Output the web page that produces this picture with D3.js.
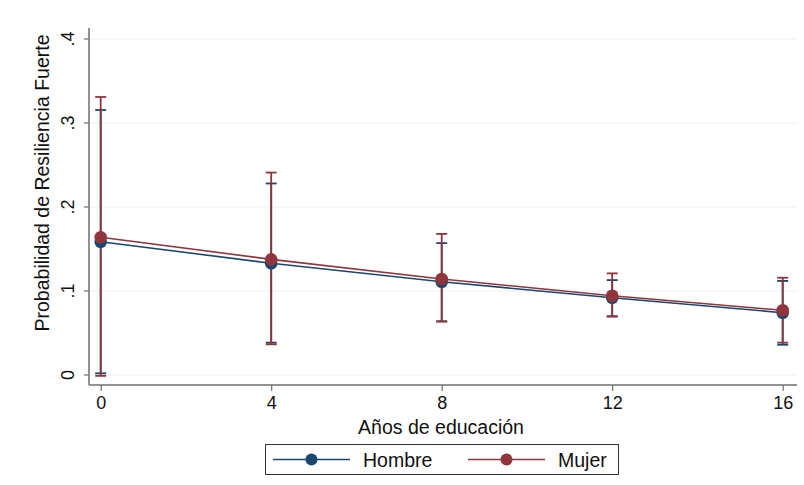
<!DOCTYPE html>
<html>
<head>
<meta charset="utf-8">
<script src="https://cdn.jsdelivr.net/npm/d3@7"></script>
<style>
  body { margin: 0; background: #fff; }
  svg { display: block; font-family: "Liberation Sans", Arial, sans-serif; }
</style>
</head>
<body>
<svg id="chart" width="804" height="485"></svg>
<script>
// Predicted probability of strong resilience by years of education, by sex
const years = [0, 4, 8, 12, 16];
const hombreProb = [0.1587, 0.1330, 0.1110, 0.0920, 0.0742];
const hombreLow  = [0.0020, 0.0385, 0.0640, 0.0700, 0.0360];
const hombreHigh = [0.3155, 0.2280, 0.1570, 0.1130, 0.1120];
const mujerProb  = [0.1640, 0.1377, 0.1143, 0.0944, 0.0770];
const mujerLow   = [-0.0010, 0.0365, 0.0635, 0.0695, 0.0385];
const mujerHigh  = [0.3310, 0.2410, 0.1680, 0.1210, 0.1158];
const yTicks = [0, 0.1, 0.2, 0.3, 0.4];
const yTickLabels = ["0", ".1", ".2", ".3", ".4"];
const seriesNames = ["Hombre", "Mujer"];
const seriesColors = ["#1a476f", "#90353b"];

const svg = d3.select("#chart");

const x = d3.scaleLinear().domain([0, 16]).range([100.7, 782.7]);
const y = d3.scaleLinear().domain([0, 0.4]).range([375, 39]);

const axisLeftX = 89, axisBottomY = 385, axisRight = 797, axisTop = 28;
const tickFont = 18, titleFont = 19.5;

// light horizontal grid
svg.append("g").selectAll("line").data(yTicks).join("line")
  .attr("x1", axisLeftX + 1).attr("x2", axisRight)
  .attr("y1", d => y(d)).attr("y2", d => y(d))
  .attr("stroke", "#eaeef1").attr("stroke-width", 1);

// y axis with rotated tick labels
const yAxis = d3.axisLeft(y).tickValues(yTicks)
  .tickFormat((d, i) => yTickLabels[i]).tickSize(5).tickPadding(4);
const gy = svg.append("g").attr("transform", `translate(${axisLeftX},0)`).call(yAxis);
gy.select(".domain").remove();
gy.append("line").attr("x1", 0).attr("x2", 0).attr("y1", axisTop).attr("y2", axisBottomY)
  .attr("stroke", "#6e6e6e").attr("stroke-width", 1.5);
gy.selectAll(".tick").attr("transform", null);
gy.selectAll(".tick line").attr("stroke", "#6e6e6e").attr("stroke-width", 1.2)
  .attr("y1", d => y(d)).attr("y2", d => y(d));
gy.selectAll(".tick text")
  .attr("font-size", tickFont).attr("fill", "#111")
  .attr("text-anchor", "middle")
  .attr("x", -21).attr("y", d => y(d)).attr("dy", "0.35em")
  .attr("transform", d => `rotate(-90 -21 ${y(d)})`);

// x axis
const xAxis = d3.axisBottom(x).tickValues(years).tickSize(6).tickPadding(5);
const gx = svg.append("g").attr("transform", `translate(0,${axisBottomY})`).call(xAxis);
gx.select(".domain").remove();
gx.append("line").attr("x1", axisLeftX).attr("x2", axisRight).attr("y1", 0).attr("y2", 0)
  .attr("stroke", "#6e6e6e").attr("stroke-width", 1.5);
gx.selectAll(".tick line").attr("stroke", "#6e6e6e").attr("stroke-width", 1.2);
gx.selectAll(".tick text").attr("font-size", tickFont).attr("fill", "#111");

// axis titles
svg.append("text").attr("x", 441).attr("y", 434).attr("text-anchor", "middle")
  .attr("font-size", titleFont).attr("fill", "#111").text("Años de educación");
svg.append("text").attr("transform", "translate(49,183) rotate(-90)")
  .attr("text-anchor", "middle").attr("font-size", titleFont).attr("fill", "#111")
  .text("Probabilidad de Resiliencia Fuerte");

const series = [
  { prob: hombreProb, low: hombreLow, high: hombreHigh },
  { prob: mujerProb, low: mujerLow, high: mujerHigh }
];

// confidence intervals with caps
series.forEach((s, si) => {
  const g = svg.append("g").attr("stroke", seriesColors[si]).attr("stroke-width", 1.8);
  years.forEach((yr, i) => {
    const cx = x(yr);
    g.append("line").attr("x1", cx).attr("x2", cx).attr("y1", y(s.low[i])).attr("y2", y(s.high[i]));
    g.append("line").attr("x1", cx - 5.5).attr("x2", cx + 5.5).attr("y1", y(s.low[i])).attr("y2", y(s.low[i]));
    g.append("line").attr("x1", cx - 5.5).attr("x2", cx + 5.5).attr("y1", y(s.high[i])).attr("y2", y(s.high[i]));
  });
});

// lines and markers
const line = d3.line().x((d, i) => x(years[i])).y(d => y(d));
series.forEach((s, si) => {
  svg.append("path").datum(s.prob).attr("d", line)
    .attr("fill", "none").attr("stroke", seriesColors[si]).attr("stroke-width", 1.6);
  svg.append("g").selectAll("circle").data(s.prob).join("circle")
    .attr("cx", (d, i) => x(years[i])).attr("cy", d => y(d)).attr("r", 6.3)
    .attr("fill", seriesColors[si]);
});

// legend
const lg = svg.append("g");
lg.append("rect").attr("x", 265.5).attr("y", 444.5).attr("width", 353).attr("height", 30)
  .attr("fill", "#fff").attr("stroke", "#333").attr("stroke-width", 1);
const legendX = [273, 468];
seriesNames.forEach((name, i) => {
  const lx = legendX[i];
  lg.append("line").attr("x1", lx).attr("x2", lx + 77).attr("y1", 459.5).attr("y2", 459.5)
    .attr("stroke", seriesColors[i]).attr("stroke-width", 1.6);
  lg.append("circle").attr("cx", lx + 38.5).attr("cy", 459.5).attr("r", 6).attr("fill", seriesColors[i]);
  lg.append("text").attr("x", lx + 90).attr("y", 466.5).attr("font-size", titleFont).attr("fill", "#111").text(name);
});
</script>
</body>
</html>
